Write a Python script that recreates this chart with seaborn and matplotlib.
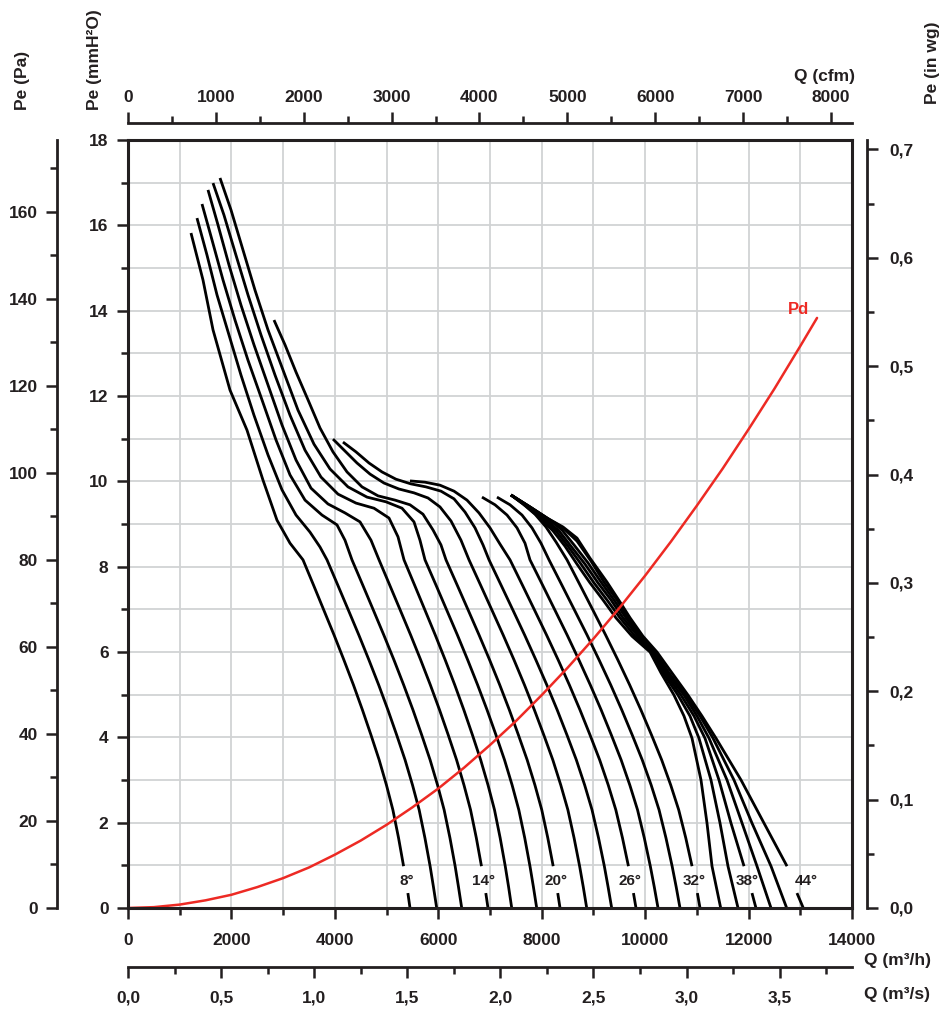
import numpy as np
import pandas as pd
import seaborn as sns
from matplotlib import pyplot as plt
from matplotlib.ticker import MultipleLocator, FixedLocator, FuncFormatter

# %% Data (Q in m3/h, Pe in mmH2O)

angles = [8, 10, 12, 14, 16, 18, 20, 22, 24, 26, 28, 30, 32, 34, 36, 38, 40, 42, 44]
labelled = [8, 14, 20, 26, 32, 38, 44]

# common pressure levels read along the lower (falling) branch of curves 8..32
p_low = [7.57, 6.98, 6.40, 5.81, 5.23, 4.64, 4.05, 3.47, 2.88, 2.30, 1.64, 0.98, 0.49, 0]
p_low_lab = [7.57, 6.98, 6.40, 5.81, 5.23, 4.64, 4.05, 3.47, 2.88, 2.30, 1.64, 0.98, 0.35, 0]

q08 = [1218, 1450, 1644, 1972, 2301, 2610, 2881, 3133, 3384,
       3587, 3787, 3984, 4176, 4359, 4534, 4700, 4857, 4998, 5122, 5232, 5329, 5412, 5453]
p08 = [15.82, 14.72, 13.55, 12.14, 11.20, 10.03, 9.09, 8.55, 8.16] + p_low_lab

q10 = [1334, 1528, 1721, 1953, 2185, 2436, 2707, 2978, 3249, 3519, 3713, 3848,
       4056, 4262, 4463, 4660, 4847, 5027, 5197, 5358, 5502, 5630, 5742, 5842, 5907, 5969]
p10 = [16.17, 15.30, 14.37, 13.43, 12.49, 11.55, 10.62, 9.80, 9.21, 8.81, 8.46, 8.16] + p_low

q12 = [1431, 1624, 1837, 2069, 2320, 2591, 2862, 3133, 3423, 3751, 4041, 4196, 4331,
       4539, 4745, 4946, 5144, 5330, 5511, 5681, 5842, 5986, 6113, 6226, 6326, 6391, 6453]
p12 = [16.50, 15.66, 14.72, 13.78, 12.84, 11.91, 10.97, 10.15, 9.56, 9.21, 8.98, 8.62, 8.16] + p_low

q14 = [1547, 1740, 1953, 2185, 2436, 2707, 2978, 3249, 3539, 3867, 4196, 4486, 4699, 4854,
       5060, 5265, 5465, 5661, 5846, 6025, 6194, 6354, 6497, 6624, 6736, 6835, 6919, 6961]
p14 = [16.83, 16.01, 15.07, 14.13, 13.20, 12.26, 11.32, 10.50, 9.84, 9.47, 9.26, 9.05, 8.62, 8.16] + p_low_lab

q16 = [1644, 1856, 2088, 2320, 2572, 2843, 3133, 3423, 3732, 4061, 4409, 4757, 5047, 5221, 5337,
       5541, 5743, 5941, 6135, 6318, 6495, 6662, 6820, 6962, 7087, 7197, 7295, 7360, 7420]
p16 = [16.99, 16.24, 15.30, 14.37, 13.43, 12.49, 11.55, 10.73, 10.10, 9.70, 9.49, 9.37, 9.14, 8.70, 8.16] + p_low

q18 = [1779, 1992, 2224, 2456, 2707, 2997, 3287, 3597, 3906, 4254, 4622, 4989, 5298, 5530, 5646, 5743,
       5955, 6164, 6369, 6570, 6760, 6944, 7117, 7281, 7428, 7557, 7672, 7773, 7840, 7903]
p18 = [17.11, 16.36, 15.42, 14.48, 13.55, 12.61, 11.67, 10.87, 10.29, 9.87, 9.63, 9.52, 9.37, 9.05, 8.62,
       8.16] + p_low

q20 = [2823, 3036, 3249, 3481, 3713, 3964, 4235, 4525, 4834, 5163, 5453, 5704, 5898, 6052, 6149,
       6365, 6579, 6788, 6994, 7188, 7375, 7551, 7719, 7869, 8001, 8118, 8222, 8310, 8354]
p20 = [13.78, 13.20, 12.56, 11.91, 11.25, 10.69, 10.22, 9.87, 9.66, 9.56, 9.45, 9.23, 8.86, 8.51, 8.16] + p_low_lab

q22 = [3964, 4196, 4428, 4680, 4950, 5240, 5530, 5801, 6033, 6246, 6439, 6594,
       6817, 7038, 7254, 7466, 7666, 7859, 8042, 8215, 8369, 8506, 8626, 8733, 8804, 8870]
p22 = [10.99, 10.71, 10.43, 10.17, 9.96, 9.82, 9.73, 9.61, 9.40, 9.07, 8.62, 8.16] + p_low

q24 = [4157, 4409, 4660, 4912, 5182, 5472, 5762, 6052, 6304, 6517, 6710, 6865, 6981,
       7213, 7444, 7669, 7889, 8098, 8300, 8490, 8670, 8831, 8973, 9099, 9211, 9284, 9353]
p24 = [10.92, 10.69, 10.43, 10.22, 10.05, 9.94, 9.87, 9.77, 9.59, 9.28, 8.91, 8.51, 8.16] + p_low

q26 = [5453, 5743, 6033, 6304, 6555, 6787, 7000, 7193, 7387,
       7626, 7862, 8093, 8320, 8534, 8741, 8936, 9121, 9287, 9433, 9562, 9677, 9774, 9823]
p26 = [10.01, 9.98, 9.91, 9.77, 9.56, 9.26, 8.91, 8.53, 8.16] + p_low_lab

q28 = [6845, 7097, 7329, 7522, 7677, 7773,
       8016, 8256, 8491, 8721, 8939, 9150, 9348, 9536, 9704, 9853, 9984, 10100, 10177, 10249]
p28 = [9.63, 9.45, 9.21, 8.91, 8.55, 8.16] + p_low

q30 = [7135, 7387, 7619, 7812, 7986, 8141,
       8389, 8635, 8876, 9111, 9334, 9549, 9752, 9944, 10117, 10269, 10403, 10522, 10601, 10674]
p30 = [9.63, 9.45, 9.21, 8.91, 8.55, 8.16] + p_low

q32 = [7406, 7638, 7870, 8083, 8276, 8489,
       8741, 8991, 9235, 9474, 9700, 9919, 10125, 10320, 10495, 10649, 10786, 10907, 11010, 11061]
p32 = [9.68, 9.47, 9.23, 8.93, 8.58, 8.16] + p_low_lab

# curves 34..44 leave the stall line together and fan out near the bottom
q34 = [7406, 7696, 7967, 8218, 8450, 8682, 8934, 9185, 9436, 9746, 10094, 10307, 10558, 10751, 10906, 11080, 11196, 11293, 11461]
p34 = [9.68, 9.42, 9.14, 8.84, 8.48, 8.06, 7.62, 7.22, 6.80, 6.37, 6.00, 5.51, 4.99, 4.50, 3.98, 3.00, 1.99, 0.98, 0]

q36 = [7406, 7715, 8005, 8276, 8508, 8760, 9011, 9262, 9514, 9804, 10113, 10345, 10635, 10867, 11041, 11273, 11448, 11602, 11796]
p36 = [9.68, 9.42, 9.14, 8.84, 8.48, 8.06, 7.62, 7.22, 6.80, 6.37, 6.00, 5.51, 4.99, 4.50, 3.98, 3.00, 1.99, 0.98, 0]

q38 = [7406, 7735, 8044, 8334, 8566, 8837, 9088, 9340, 9572, 9862, 10133, 10384, 10693, 10945, 11157, 11428, 11660, 11912, 12066, 12143]
p38 = [9.68, 9.42, 9.14, 8.84, 8.48, 8.06, 7.62, 7.22, 6.80, 6.37, 6.00, 5.51, 4.99, 4.50, 3.98, 3.00, 1.99, 0.98, 0.35, 0]

q40 = [7406, 7773, 8102, 8392, 8624, 8895, 9146, 9398, 9630, 9901, 10152, 10423, 10751, 11003, 11235, 11583, 11874, 12163, 12434]
p40 = [9.68, 9.40, 9.14, 8.86, 8.51, 8.09, 7.64, 7.22, 6.80, 6.37, 6.00, 5.51, 4.99, 4.50, 3.98, 3.00, 1.99, 0.98, 0]

q42 = [7406, 7773, 8102, 8412, 8682, 8953, 9204, 9456, 9669, 9939, 10191, 10461, 10790, 11061, 11312, 11718, 12066, 12434, 12737]
p42 = [9.68, 9.40, 9.14, 8.91, 8.60, 8.13, 7.64, 7.22, 6.80, 6.37, 6.00, 5.51, 4.99, 4.50, 3.98, 3.00, 1.99, 0.98, 0]

q44 = [7406, 7773, 8102, 8412, 8682, 8934, 9262, 9515, 9709, 9958, 10229, 10519, 10829, 11099, 11370, 11854, 12298, 12743, 12936, 13058]
p44 = [9.68, 9.40, 9.14, 8.93, 8.67, 8.20, 7.64, 7.17, 6.80, 6.37, 6.00, 5.51, 4.99, 4.50, 3.98, 3.00, 1.99, 0.98, 0.35, 0]

# angle labels sit in the gap near the bottom of every third curve
label_q = [5395, 6865, 8276, 9707, 10945, 11970, 13110]
label_p = 0.64

# dynamic pressure curve
pd_q = [0, 500, 1000, 1500, 2000, 2500, 3000, 3500, 4000, 4500, 5000, 5500, 6000, 6500,
        7000, 7500, 8000, 8500, 9000, 9500, 10000, 10500, 11000, 11500, 12000, 12500, 13000, 13324]
pd_p = [0, 0.02, 0.08, 0.18, 0.31, 0.49, 0.70, 0.95, 1.25, 1.58, 1.95, 2.36, 2.80, 3.29,
        3.82, 4.38, 4.99, 5.63, 6.31, 7.03, 7.79, 8.59, 9.43, 10.30, 11.22, 12.17, 13.17, 13.83]

# tick values of the extra scales
ticks_pa = [0, 20, 40, 60, 80, 100, 120, 140, 160]
ticks_wg = [0.0, 0.1, 0.2, 0.3, 0.4, 0.5, 0.6, 0.7]
ticks_cfm = [0, 1000, 2000, 3000, 4000, 5000, 6000, 7000, 8000]
ticks_ms = [0.0, 0.5, 1.0, 1.5, 2.0, 2.5, 3.0, 3.5]

curves = {8: (q08, p08), 10: (q10, p10), 12: (q12, p12), 14: (q14, p14), 16: (q16, p16),
          18: (q18, p18), 20: (q20, p20), 22: (q22, p22), 24: (q24, p24), 26: (q26, p26),
          28: (q28, p28), 30: (q30, p30), 32: (q32, p32), 34: (q34, p34), 36: (q36, p36),
          38: (q38, p38), 40: (q40, p40), 42: (q42, p42), 44: (q44, p44)}

# long table, labelled curves split into main line + short stub under the label
rows = []
for a in angles:
    q, p = curves[a]
    if a in labelled:
        parts = [(f'{a}', q[:-2], p[:-2]), (f'{a}s', q[-2:], p[-2:])]
    else:
        parts = [(f'{a}', q, p)]
    for seg, qq, pp in parts:
        for x, y in zip(qq, pp):
            rows.append({'seg': seg, 'Q': x, 'P': y})
dfCurves = pd.DataFrame(rows)

# %% Plot

INK = '#231f20'
sns.set_theme(style='white')
plt.rcParams['font.family'] = ['Liberation Sans', 'DejaVu Sans']
plt.rcParams['font.weight'] = 'bold'
plt.rcParams['text.color'] = INK
plt.rcParams['xtick.color'] = INK
plt.rcParams['ytick.color'] = INK

W, H = 944, 1011
fig = plt.figure(figsize=(W / 100, H / 100), dpi=100)
ax = fig.add_axes([128 / W, 1 - 908 / H, 724 / W, 768 / H])

sns.lineplot(data=dfCurves, x='Q', y='P', units='seg', estimator=None, sort=False,
             color='black', linewidth=2.0, ax=ax, legend=False,
             solid_joinstyle='round', solid_capstyle='butt')
sns.lineplot(x=pd_q, y=pd_p, sort=False, color='#ed2a24', linewidth=1.8, ax=ax,
             solid_joinstyle='round')

for txt, q in zip([f'{a}°' for a in labelled], label_q):
    ax.text(q, label_p, txt, ha='center', va='center', fontsize=11, fontweight='bold', color=INK)
ax.text(12960, 14.02, 'Pd', ha='center', va='center', fontsize=12, fontweight='bold', color='#ed2a24')

ax.set_xlim(0, 14000)
ax.set_ylim(0, 18)
ax.set_xlabel('')
ax.set_ylabel('')
ax.xaxis.set_major_locator(MultipleLocator(2000))
ax.xaxis.set_minor_locator(MultipleLocator(1000))
ax.yaxis.set_major_locator(MultipleLocator(2))
ax.yaxis.set_minor_locator(MultipleLocator(1))
ax.grid(which='both', color='#d1d3d4', linewidth=1.3)
ax.set_axisbelow(True)
for s in ax.spines.values():
    s.set_visible(True)
    s.set_linewidth(2.2)
    s.set_color(INK)
ax.tick_params(which='both', direction='out', width=1.8, labelsize=12.5, top=False, right=False,
               bottom=True, left=True)
ax.tick_params(which='major', length=8)
ax.tick_params(which='minor', length=5)
ax.tick_params(axis='x', pad=10)
ax.tick_params(axis='y', pad=6)

comma = FuncFormatter(lambda v, pos: f'{v:.1f}'.replace('.', ','))


def style_secondary(sec, axis, ticks, minor, pad, fmt=None):
    axobj = sec.xaxis if axis == 'x' else sec.yaxis
    axobj.set_major_locator(FixedLocator(ticks))
    step = ticks[1] - ticks[0]
    axobj.set_minor_locator(FixedLocator([t + step / 2 for t in ticks[:minor]]))
    if fmt is not None:
        axobj.set_major_formatter(fmt)
    sec.tick_params(which='both', direction='out', width=1.8, labelsize=12.5, pad=pad)
    sec.tick_params(which='major', length=8)
    sec.tick_params(which='minor', length=5)
    for s in sec.spines.values():
        s.set_linewidth(2.0)
        s.set_color(INK)


sec_pa = ax.secondary_yaxis(-71 / 724, functions=(lambda p: p * 9.80665, lambda p: p / 9.80665))
style_secondary(sec_pa, 'y', ticks_pa, 9, 6)

sec_wg = ax.secondary_yaxis(1 + 15 / 724, functions=(lambda p: p / 25.4, lambda w: w * 25.4))
style_secondary(sec_wg, 'y', ticks_wg, 7, 8, comma)

sec_cfm = ax.secondary_xaxis(1 + 17 / 768, functions=(lambda q: q * 0.588578, lambda c: c / 0.588578))
style_secondary(sec_cfm, 'x', ticks_cfm, 8, 5)

sec_ms = ax.secondary_xaxis(-59 / 768, functions=(lambda q: q / 3600, lambda s: s * 3600))
style_secondary(sec_ms, 'x', ticks_ms, 8, 9, comma)


# axis titles placed in pixel positions
def ftext(x, y, s, **kw):
    fig.text(x / W, 1 - y / H, s, fontsize=12.5, fontweight='bold', color=INK, **kw)


ftext(23, 80, 'Pe (Pa)', rotation=90, ha='center', va='center')
ftext(94, 60, 'Pe (mmH²O)', rotation=90, ha='center', va='center')
ftext(855, 77, 'Q (cfm)', ha='right', va='center')
ftext(933, 63, 'Pe (in wg)', rotation=90, ha='center', va='center')
ftext(897, 961, 'Q (m³/h)', ha='center', va='center')
ftext(897, 995, 'Q (m³/s)', ha='center', va='center')

fig.savefig('out.png', dpi=100)
